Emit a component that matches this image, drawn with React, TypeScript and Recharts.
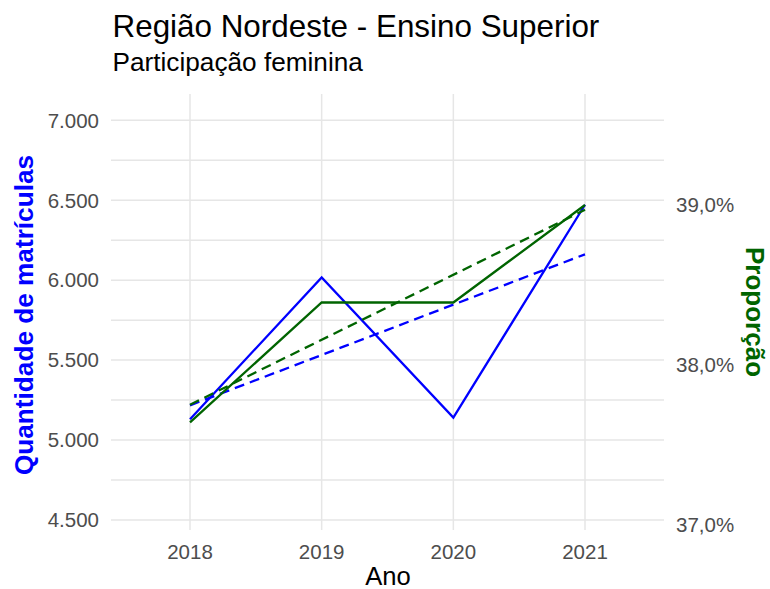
// Região Nordeste - Ensino Superior: matrículas (eixo esquerdo) e proporção feminina (eixo direito)
import React from 'react'
import { LineChart, Line, XAxis, YAxis, CartesianGrid } from 'recharts'

const anos = [2018, 2019, 2020, 2021]
const matriculas = [5130, 6017, 5140, 6472]
const proporcao = [0.3764, 0.3839, 0.3839, 0.39]
// linhas de tendência (só as pontas)
const tendenciaMatriculas = [5217, null, null, 6162]
const tendenciaProporcao = [0.3775, null, null, 0.3897]

const ticksAno = [2018, 2019, 2020, 2021]
const ticksMatriculas = [4500, 4750, 5000, 5250, 5500, 5750, 6000, 6250, 6500, 6750, 7000]
const ticksProporcao = [0.37, 0.38, 0.39]

const dominioAno = [2017.4, 2021.6]
const dominioMat = [4437, 7165]

const AZUL = '#0000ff'
const VERDE = '#006400'
const FONTE = '"Liberation Sans", Arial, Helvetica, sans-serif'

const dados = anos.map((ano, i) => ({
  ano,
  matriculas: matriculas[i],
  proporcao: proporcao[i],
  tendMat: tendenciaMatriculas[i],
  tendProp: tendenciaProporcao[i],
}))

const fmtMil = (v: number) =>
  v % 500 === 0 ? String(v).replace(/\B(?=(\d{3})+(?!\d))/g, '.') : ''
const fmtPct = (v: number) => (v * 100).toFixed(1).replace('.', ',') + '%'

const tickStyle = { fill: '#4d4d4d', fontSize: 20.5, fontFamily: FONTE }

// grade só nos ticks (sem a moldura nas bordas do painel)
const gradeH = ({ offset }: any) =>
  ticksMatriculas.map(
    (t) => offset.top + ((dominioMat[1] - t) / (dominioMat[1] - dominioMat[0])) * offset.height
  )
const gradeV = ({ offset }: any) =>
  ticksAno.map(
    (t) => offset.left + ((t - dominioAno[0]) / (dominioAno[1] - dominioAno[0])) * offset.width
  )

export default function App() {
  return (
    <div style={{ position: 'absolute', left: 0, top: 0, width: 770, height: 589, background: '#fff', fontFamily: FONTE }}>
      <LineChart width={770} height={589} data={dados} margin={{ top: 94, right: 40, bottom: 0, left: 50 }}>
        <CartesianGrid
          yAxisId="left"
          stroke="#e6e6e6"
          strokeWidth={1.5}
          horizontalCoordinatesGenerator={gradeH}
          verticalCoordinatesGenerator={gradeV}
        />
        <XAxis
          dataKey="ano"
          type="number"
          domain={dominioAno}
          ticks={ticksAno}
          height={59}
          axisLine={false}
          tickLine={false}
          tickSize={0}
          tickMargin={14.5}
          tick={tickStyle}
        />
        <YAxis
          yAxisId="left"
          orientation="left"
          type="number"
          domain={dominioMat}
          ticks={ticksMatriculas}
          interval={0}
          width={61}
          axisLine={false}
          tickLine={false}
          tickSize={0}
          tickMargin={12}
          tickFormatter={fmtMil}
          tick={tickStyle}
        />
        <YAxis
          yAxisId="right"
          orientation="right"
          type="number"
          domain={[0.36966, 0.39695]}
          ticks={ticksProporcao}
          interval={0}
          width={66}
          axisLine={false}
          tickLine={false}
          tickSize={0}
          tickMargin={12}
          tickFormatter={fmtPct}
          tick={tickStyle}
        />
        <Line yAxisId="left" dataKey="matriculas" stroke={AZUL} strokeWidth={2.3} dot={false} isAnimationActive={false} />
        <Line yAxisId="left" dataKey="tendMat" stroke={AZUL} strokeWidth={2.3} strokeDasharray="10 6" connectNulls dot={false} isAnimationActive={false} />
        <Line yAxisId="right" dataKey="proporcao" stroke={VERDE} strokeWidth={2.3} dot={false} isAnimationActive={false} />
        <Line yAxisId="right" dataKey="tendProp" stroke={VERDE} strokeWidth={2.3} strokeDasharray="10 6" connectNulls dot={false} isAnimationActive={false} />
      </LineChart>
      <svg width={770} height={589} style={{ position: 'absolute', left: 0, top: 0, pointerEvents: 'none' }}>
        <text x={112.5} y={37} fontSize={31.4} fontFamily={FONTE} fill="#000">Região Nordeste - Ensino Superior</text>
        <text x={112.5} y={70.5} fontSize={26.2} fontFamily={FONTE} fill="#000">Participação feminina</text>
        <text x={388} y={584.5} fontSize={25.6} fontFamily={FONTE} fill="#000" textAnchor="middle">Ano</text>
        <text x={0} y={0} transform="translate(33,315) rotate(-90)" fontSize={26.2} fontWeight="bold" fontFamily={FONTE} fill={AZUL} textAnchor="middle">Quantidade de matrículas</text>
        <text x={0} y={0} transform="translate(746,312) rotate(90)" fontSize={26} fontWeight="bold" fontFamily={FONTE} fill={VERDE} textAnchor="middle">Proporção</text>
      </svg>
    </div>
  )
}
